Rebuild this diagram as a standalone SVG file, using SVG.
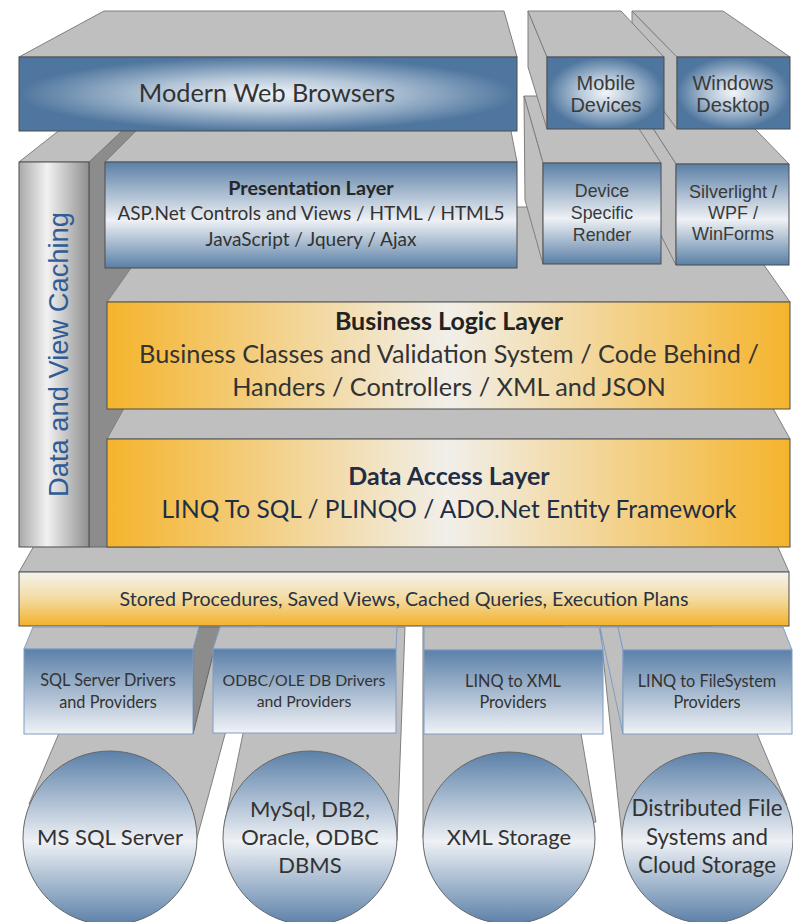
<svg xmlns="http://www.w3.org/2000/svg" width="793" height="922" viewBox="0 0 793 922">
<defs>
<radialGradient id="gRad" cx="50%" cy="50%" r="50%">
<stop offset="0" stop-color="#f2f5f8"/>
<stop offset="0.45" stop-color="#b4c6d8"/>
<stop offset="1" stop-color="#4f769e"/>
</radialGradient>
<linearGradient id="gBlueV" x1="0" y1="0" x2="0" y2="1">
<stop offset="0" stop-color="#5a7fa6"/>
<stop offset="0.55" stop-color="#eef1f5"/>
<stop offset="1" stop-color="#5a7fa6"/>
</linearGradient>
<linearGradient id="gDrv" x1="0" y1="0" x2="0" y2="1">
<stop offset="0" stop-color="#5b80a8"/>
<stop offset="1" stop-color="#f0f2f6"/>
</linearGradient>
<linearGradient id="gCirc" x1="0" y1="0" x2="0" y2="1">
<stop offset="0" stop-color="#5b80a8"/>
<stop offset="0.52" stop-color="#eef1f5"/>
<stop offset="1" stop-color="#5b80a8"/>
</linearGradient>
<linearGradient id="gGrayH" x1="0" y1="0" x2="1" y2="0">
<stop offset="0" stop-color="#a9a9a9"/>
<stop offset="0.4" stop-color="#f2f2f2"/>
<stop offset="1" stop-color="#8f8f8f"/>
</linearGradient>
<linearGradient id="gOrange" x1="0" y1="0" x2="1" y2="0">
<stop offset="0" stop-color="#f5b42c"/>
<stop offset="0.5" stop-color="#f1efea"/>
<stop offset="1" stop-color="#f5b42c"/>
</linearGradient>
<linearGradient id="gStored" x1="0" y1="0" x2="0" y2="1">
<stop offset="0" stop-color="#f6f3ee"/>
<stop offset="0.5" stop-color="#f2dba0"/>
<stop offset="1" stop-color="#f5b12a"/>
</linearGradient>
<style>
.top{fill:#bfbfbf;stroke:#7f7f7f;stroke-width:1}
.side{fill:#8c8c8c;stroke:#666666;stroke-width:1}
.front{stroke:#4d4d4d;stroke-width:1}
.tube{fill:#bfbfbf;stroke:#7f7f7f;stroke-width:1}
.dtop{fill:#bfbfbf;stroke:#7f9ec6;stroke-width:1}
.dfront{fill:url(#gDrv);stroke:#7f9ec6;stroke-width:1}
.circ{fill:url(#gCirc);stroke:#666666;stroke-width:1}
.c{font-family:Lato,"Liberation Sans",sans-serif;fill:#333333;text-anchor:middle}
.a{font-family:"Liberation Sans",Arial,sans-serif;fill:#3a3a3a;text-anchor:middle}
.b{font-weight:bold}
</style>
</defs>
<rect width="793" height="922" fill="#ffffff"/>

<g id="stored-top">
<polygon class="top" points="19,572 104,424 723,424 789,572"/>
</g>

<g id="caching">
<polygon class="side" points="89,162 160,95 160,547 89,547"/>
<polygon class="top" points="19,162 104,95 160,95 89,162"/>
<rect class="front" x="19" y="162" width="70" height="385" fill="url(#gGrayH)"/>
<text class="a" transform="translate(68,354.5) rotate(-90)" font-size="27.3" style="fill:#2f5c96">Data and View Caching</text>
</g>

<g id="data-access">
<polygon class="top" points="107,439 174,318 723,318 790,439"/>
<rect class="front" x="107" y="439" width="683" height="108" fill="url(#gOrange)"/>
<text class="c b" x="449" y="485" font-size="25" style="fill:#1f2d45">Data Access Layer</text>
<text class="c" x="449" y="518" font-size="24.5" style="fill:#1f2d45">LINQ To SQL / PLINQO / ADO.Net Entity Framework</text>
</g>

<g id="business">
<polygon class="top" points="107,302 174,207 723,207 790,302"/>
<rect class="front" x="107" y="302" width="683" height="107" fill="url(#gOrange)"/>
<text class="c b" x="449" y="330" font-size="25" style="fill:#222222">Business Logic Layer</text>
<text class="c" x="449" y="363" font-size="25.3">Business Classes and Validation System / Code Behind /</text>
<text class="c" x="449" y="396" font-size="25.3">Handers / Controllers / XML and JSON</text>
</g>

<g id="silverlight">
<polygon class="top" points="676,164 632,96 723,96 789,164"/>
<polygon class="top" points="676,164 632,96 632,178 676,265"/>
<rect class="front" x="676" y="164" width="113" height="101" fill="url(#gBlueV)"/>
<text class="a" x="733" y="198" font-size="18">Silverlight /</text>
<text class="a" x="733" y="219" font-size="18">WPF /</text>
<text class="a" x="733" y="240" font-size="18">WinForms</text>
</g>

<g id="device">
<polygon class="top" points="543,163 524,96 618,96 661,163"/>
<polygon class="top" points="543,163 524,96 525,200 543,264"/>
<rect class="front" x="543" y="163" width="118" height="101" fill="url(#gBlueV)"/>
<text class="a" x="602" y="197" font-size="17.8">Device</text>
<text class="a" x="602" y="219" font-size="17.8">Specific</text>
<text class="a" x="602" y="241" font-size="17.8">Render</text>
</g>

<g id="presentation">
<polygon class="top" points="105,162 172,95 504,95 517,162"/>
<rect class="front" x="105" y="162" width="412" height="106" fill="url(#gBlueV)"/>
<text class="c b" x="311" y="195" font-size="19.8" style="fill:#262626">Presentation Layer</text>
<text class="c" x="311" y="220" font-size="19">ASP.Net Controls and Views / HTML / HTML5</text>
<text class="c" x="311" y="246" font-size="19">JavaScript / Jquery / Ajax</text>
</g>

<g id="windows">
<polygon class="top" points="677,57 632,11 632,68 677,129"/>
<polygon class="top" points="677,57 632,11 723,11 790,57"/>
<rect class="front" x="677" y="57" width="113" height="72" fill="url(#gRad)"/>
<text class="a" x="733" y="90" font-size="20">Windows</text>
<text class="a" x="733" y="112" font-size="20">Desktop</text>
</g>

<g id="mobile">
<polygon class="top" points="547,57 528,11 528,67 547,129"/>
<polygon class="top" points="547,57 528,11 621,11 664,57"/>
<rect class="front" x="547" y="57" width="117" height="72" fill="url(#gRad)"/>
<text class="a" x="606" y="90" font-size="20">Mobile</text>
<text class="a" x="606" y="112" font-size="20">Devices</text>
</g>

<g id="browsers">
<polygon class="top" points="19,57 104,11 504,11 517,57"/>
<rect class="front" x="19" y="57" width="498" height="74" fill="url(#gRad)"/>
<text class="c" x="267" y="102" font-size="25.3">Modern Web Browsers</text>
</g>

<g id="stored">
<rect class="front" x="19" y="572" width="770" height="54" fill="url(#gStored)"/>
<text class="c" x="404" y="606" font-size="19.7" style="fill:#2a3345">Stored Procedures, Saved Views, Cached Queries, Execution Plans</text>
</g>

<g id="connectors">
<polygon class="tube" points="104,627 254,627 191,860 29,804"/>
<polygon class="tube" points="265,627 405,627 397,841 225,821"/>
<polygon class="tube" points="423,627 563,627 596,822 423,838"/>
<polygon class="tube" points="600,627 712,627 787,805 623,847"/>
</g>

<g id="ms-sql">
<circle class="circ" cx="110" cy="838" r="87"/>
<text class="c" x="110" y="845" font-size="22">MS SQL Server</text>
</g>
<g id="mysql">
<circle class="circ" cx="310" cy="838" r="87"/>
<text class="c" x="310" y="817" font-size="22">MySql, DB2,</text>
<text class="c" x="310" y="845" font-size="22">Oracle, ODBC</text>
<text class="c" x="310" y="873" font-size="22">DBMS</text>
</g>
<g id="xml-storage">
<circle class="circ" cx="509" cy="838" r="86"/>
<text class="c" x="509" y="845" font-size="22">XML Storage</text>
</g>
<g id="distributed">
<circle class="circ" cx="707.5" cy="838" r="85.5"/>
<text class="c" x="707" y="816" font-size="22.3">Distributed File</text>
<text class="c" x="707" y="845" font-size="22.3">Systems and</text>
<text class="c" x="707" y="873" font-size="22.3">Cloud Storage</text>
</g>

<g id="sql-drivers">
<polygon class="side" points="193,649 199,627 220,627 193,734"/>
<polygon class="dtop" points="24,649 33,627 199,627 193,649"/>
<rect class="dfront" x="24" y="649" width="169" height="85"/>
<text class="c" x="108" y="686" font-size="16.3">SQL Server Drivers</text>
<text class="c" x="108" y="708" font-size="16.3">and Providers</text>
</g>
<g id="odbc-drivers">
<polygon class="dtop" points="213,649 220,627 397,627 396,649"/>
<rect class="dfront" x="213" y="649" width="183" height="84"/>
<text class="c" x="304" y="686" font-size="15.8">ODBC/OLE DB Drivers</text>
<text class="c" x="304" y="707" font-size="15.8">and Providers</text>
</g>
<g id="xml-drivers">
<polygon class="dtop" points="424,650 424,627 599,627 603,650"/>
<rect class="dfront" x="424" y="650" width="179" height="84"/>
<text class="c" x="513" y="687" font-size="16.3">LINQ to XML</text>
<text class="c" x="513" y="708" font-size="16.3">Providers</text>
</g>
<g id="fs-drivers">
<polygon class="dtop" points="600,627 618,627 623,650 623,734"/>
<polygon class="dtop" points="623,650 618,627 783,627 792,650"/>
<rect class="dfront" x="623" y="650" width="169" height="84"/>
<text class="c" x="707" y="687" font-size="16.3">LINQ to FileSystem</text>
<text class="c" x="707" y="708" font-size="16.3">Providers</text>
</g>
</svg>
